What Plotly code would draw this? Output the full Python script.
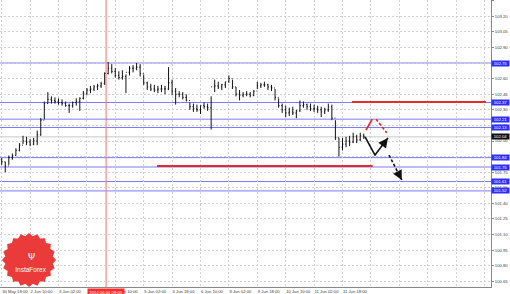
import numpy as np
import plotly.graph_objects as go

# ---------------- data (2-hour bars on the trading timeline, hours since 30 May 18:00) -------------
bar_hour = list(range(0, 206, 2))

high = [101.84, 101.80, 101.86, 101.88, 101.93, 101.98, 102.05, 102.04, 102.02, 102.03,
        102.10, 102.22, 102.38, 102.47, 102.43, 102.42, 102.41, 102.40, 102.38, 102.36,
        102.38, 102.41, 102.42, 102.48, 102.51, 102.53, 102.54, 102.55, 102.57, 102.66,
        102.76, 102.74, 102.70, 102.67, 102.68, 102.64, 102.72, 102.73, 102.75, 102.74,
        102.64, 102.57, 102.55, 102.54, 102.53, 102.54, 102.53, 102.71, 102.59, 102.51,
        102.48, 102.47, 102.45, 102.37, 102.36, 102.35, 102.34, 102.37, 102.36, 102.43,
        102.59, 102.57, 102.55, 102.57, 102.63, 102.59, 102.52, 102.49, 102.47, 102.48,
        102.47, 102.49, 102.57, 102.56, 102.57, 102.55, 102.54, 102.50, 102.41, 102.36,
        102.34, 102.32, 102.33, 102.30, 102.39, 102.38, 102.36, 102.36, 102.35, 102.34,
        102.33, 102.32, 102.36, 102.35, 102.20, 102.03, 102.03, 102.04, 102.05, 102.08,
        102.06, 102.08, 102.07]

low = [101.77, 101.70, 101.77, 101.82, 101.86, 101.90, 101.97, 101.96, 101.95, 101.96,
       101.96, 102.05, 102.21, 102.36, 102.36, 102.36, 102.35, 102.34, 102.33, 102.27,
       102.32, 102.34, 102.29, 102.40, 102.44, 102.46, 102.48, 102.49, 102.51, 102.54,
       102.64, 102.65, 102.61, 102.59, 102.59, 102.46, 102.63, 102.66, 102.68, 102.62,
       102.54, 102.49, 102.48, 102.47, 102.46, 102.47, 102.45, 102.49, 102.44, 102.35,
       102.42, 102.40, 102.38, 102.30, 102.28, 102.28, 102.26, 102.31, 102.29, 102.11,
       102.47, 102.50, 102.49, 102.51, 102.56, 102.50, 102.43, 102.39, 102.42, 102.43,
       102.42, 102.43, 102.50, 102.51, 102.52, 102.49, 102.48, 102.39, 102.32, 102.27,
       102.23, 102.24, 102.25, 102.22, 102.28, 102.32, 102.30, 102.29, 102.28, 102.27,
       102.23, 102.26, 102.28, 102.20, 102.01, 101.85, 101.91, 101.94, 101.95, 101.98,
       101.98, 102.00, 102.02]

close = [101.80, 101.76, 101.84, 101.86, 101.91, 101.96, 102.00, 101.99, 101.97, 102.00,
         102.06, 102.20, 102.36, 102.40, 102.39, 102.38, 102.37, 102.36, 102.34, 102.34,
         102.37, 102.38, 102.41, 102.46, 102.49, 102.50, 102.52, 102.53, 102.55, 102.65,
         102.70, 102.67, 102.63, 102.61, 102.62, 102.66, 102.70, 102.70, 102.71, 102.65,
         102.56, 102.52, 102.50, 102.49, 102.50, 102.50, 102.50, 102.56, 102.48, 102.45,
         102.45, 102.42, 102.39, 102.33, 102.31, 102.30, 102.34, 102.33, 102.32, 102.52,
         102.53, 102.52, 102.54, 102.57, 102.60, 102.52, 102.45, 102.44, 102.45, 102.45,
         102.44, 102.48, 102.53, 102.54, 102.54, 102.52, 102.51, 102.42, 102.34, 102.30,
         102.27, 102.28, 102.27, 102.29, 102.34, 102.35, 102.33, 102.31, 102.31, 102.30,
         102.28, 102.30, 102.33, 102.22, 102.03, 101.94, 101.97, 102.00, 101.99, 102.04,
         102.01, 102.05, 102.04]
first_open = 101.82
open_ = [first_open] + close[:-1]

blue_levels = [102.75, 102.37, 102.21, 102.13, 101.84, 101.75, 101.61, 101.52]
current_price = 102.04

red_levels = [  # (price, from hour, to hour)
    (102.375, 197.3, 272.8),
    (101.76, 87.5, 209.0),
]

cursor_hour = 58.8
cursor_label = "2014.06.04 09:00"

y_ticks = [100.65, 100.80, 100.95, 101.10, 101.25, 101.40, 101.55, 101.70, 101.85, 102.00,
           102.15, 102.30, 102.45, 102.60, 102.75, 102.90, 103.05, 103.20, 103.35]
y_tick_text = ["100.65", "100.80", "100.95", "101.10", "101.25", "101.40", "101.55", "101.70", "",
               "102.00", "102.15", "102.30", "102.46", "102.60", "", "102.90", "103.05",
               "103.20", "103.35"]
x_ticks = [0, 16, 32, 48, 64, 80, 96, 112, 128, 144, 160, 176, 192, 208, 224, 240, 256, 272]
x_tick_text = ["30 May 18:00", "2 Jun 10:00", "3 Jun 02:00", "", "4 Jun 10:00",
               "5 Jun 02:00", "5 Jun 18:00", "6 Jun 10:00", "9 Jun 02:00", "9 Jun 18:00",
               "10 Jun 10:00", "11 Jun 02:00", "11 Jun 18:00", "", "", "", "", ""]

# forecast arrows (hour, price)
red_up = [(205.2, 102.106), (208.8, 102.21)]
red_down = [(210.9, 102.21), (216.9, 102.08)]
black_path = [(204.7, 102.04), (210.3, 101.865), (217.6, 102.03)]
black_down = [(218.2, 101.865), (225.4, 101.625)]

# ---------------- figure -------------
W, H = 510, 294
ML, MR, MT, MB = 0, 19, 0, 7
PW, PH = W - ML - MR, H - MT - MB
TICK_FONT = dict(size=4.2, color="#3c3c3c", family="Liberation Sans")

fig = go.Figure()

for lv in blue_levels:
    fig.add_shape(type="line", xref="paper", x0=0, x1=1, yref="y", y0=lv, y1=lv,
                  line=dict(color="#7a7aff", width=1), layer="below")
fig.add_shape(type="line", xref="paper", x0=0, x1=1, yref="y", y0=current_price, y1=current_price,
              line=dict(color="#c8c8c8", width=1), layer="below")
fig.add_shape(type="line", xref="x", x0=cursor_hour, x1=cursor_hour, yref="paper", y0=0, y1=1,
              line=dict(color="#ff6a6a", width=1), layer="below")
for p, h0, h1 in red_levels:
    fig.add_shape(type="line", xref="x", x0=h0, x1=h1, yref="y", y0=p, y1=p,
                  line=dict(color="#e52b2b", width=2))

fig.add_trace(go.Ohlc(x=bar_hour, open=open_, high=high, low=low, close=close,
                      increasing=dict(line=dict(color="#111111", width=1)),
                      decreasing=dict(line=dict(color="#111111", width=1)),
                      tickwidth=0.25, hoverinfo="skip", showlegend=False))


def seg(points, color, dash):
    fig.add_trace(go.Scatter(x=[p[0] for p in points], y=[p[1] for p in points], mode="lines",
                             line=dict(color=color, width=1.6, dash=dash),
                             hoverinfo="skip", showlegend=False))


def head(points, color):
    (x0, y0), (x1, y1) = points[-2], points[-1]
    fig.add_annotation(x=x1, y=y1, ax=x1 - (x1 - x0) * 0.25, ay=y1 - (y1 - y0) * 0.25,
                       xref="x", yref="y", axref="x", ayref="y", text="", showarrow=True,
                       arrowhead=2, arrowsize=1.2, arrowwidth=1.6, arrowcolor=color)


seg(red_up, "#ee2222", "solid")
seg(red_down, "#ee2222", "3px,2px")
head(red_down, "#ee2222")
seg(black_path, "#111111", "solid")
head(black_path, "#111111")
seg(black_down, "#111111", "3px,2px")
head(black_down, "#111111")

for lv in blue_levels:
    fig.add_annotation(xref="paper", x=1, xanchor="left", yref="y", y=lv, yanchor="middle",
                       text=f"{lv:.2f}", showarrow=False, bgcolor="#2e2eff", borderpad=0,
                       font=dict(color="white", size=4.2, family="Liberation Sans"),
                       width=17, height=5)
fig.add_annotation(xref="paper", x=1, xanchor="left", yref="y", y=current_price, yanchor="middle",
                   text=f"{current_price:.2f}", showarrow=False, bgcolor="#111111", borderpad=0,
                   font=dict(color="white", size=4.2, family="Liberation Sans"), width=17, height=5)
fig.add_annotation(xref="x", x=cursor_hour, xanchor="center", yref="paper", y=0, yanchor="top",
                   yshift=-1, text=cursor_label, showarrow=False, bgcolor="#ff2a2a", borderpad=0,
                   font=dict(color="white", size=4.2, family="Liberation Sans"), width=36, height=6)

# InstaForex badge (decoration, pixel geometry)
cx, cy = 29, 260
ang = np.linspace(0, 2 * np.pi, 41)[:-1]
rad = np.where(np.arange(40) % 2 == 0, 27, 24)
px = cx + rad * np.cos(ang)
py = cy + rad * np.sin(ang)
path = "M " + " L ".join(f"{x / PW:.4f},{1 - y / PH:.4f}" for x, y in zip(px, py)) + " Z"
fig.add_shape(type="path", path=path, xref="paper", yref="paper",
              fillcolor="#ea3a3a", line=dict(width=0), layer="above")
fig.add_annotation(xref="paper", yref="paper", x=31 / PW, y=1 - 269 / PH, xanchor="center",
                   yanchor="middle", text="InstaForex", showarrow=False, width=46,
                   font=dict(color="white", size=6.5, family="Liberation Sans"))
fig.add_annotation(xref="paper", yref="paper", x=31 / PW, y=1 - 257 / PH, xanchor="center",
                   yanchor="middle", text="Ψ", showarrow=False,
                   font=dict(color="white", size=9, family="DejaVu Sans"))

fig.update_layout(
    width=W, height=H, margin=dict(l=ML, r=MR, t=MT, b=MB, autoexpand=False),
    paper_bgcolor="white", plot_bgcolor="white", showlegend=False,
    font=dict(family="Liberation Sans", size=4.2, color="#3c3c3c"),
    xaxis=dict(range=[-0.96, 275.66], tickvals=x_ticks, ticktext=x_tick_text,
               ticklabelposition="outside right", ticks="", tickangle=0, automargin=False,
               showgrid=True, gridcolor="#cfcfcf", griddash="2px,2px", gridwidth=1,
               showline=True, linecolor="#888888", linewidth=1, zeroline=False,
               rangeslider=dict(visible=False), tickfont=TICK_FONT),
    yaxis=dict(range=[100.596, 103.356], side="right", tickvals=y_ticks,
               ticktext=y_tick_text, ticks="outside", ticklen=2, automargin=False,
               tickcolor="#888888", showgrid=True, gridcolor="#cfcfcf", griddash="2px,2px",
               showline=True, linecolor="#888888", linewidth=1, zeroline=False,
               tickfont=TICK_FONT),
)

fig.write_html("out.html")
